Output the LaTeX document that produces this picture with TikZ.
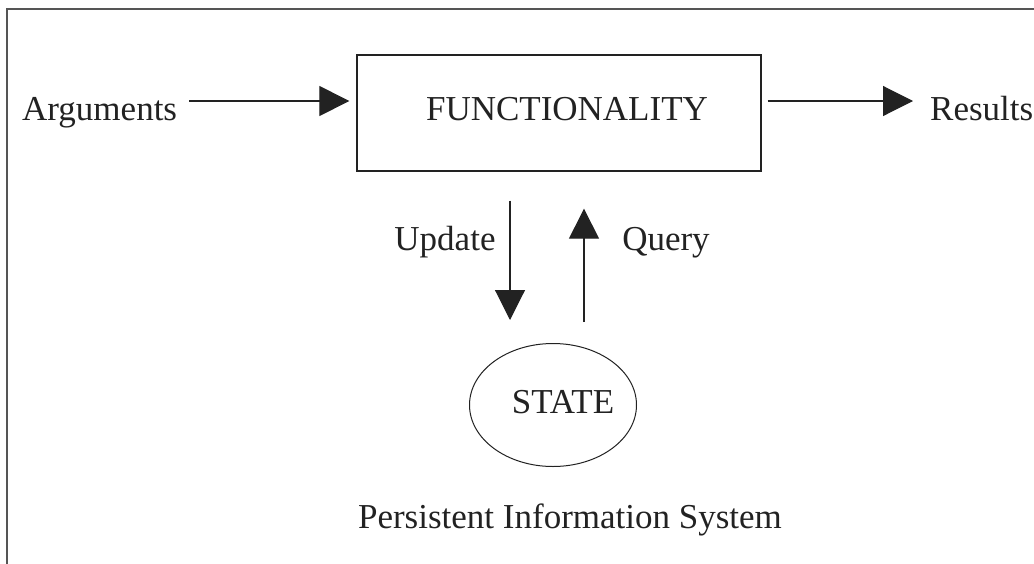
\documentclass[tikz,border=0pt]{standalone}
\usepackage{fontspec}
\setmainfont{Liberation Serif}
\usetikzlibrary{arrows.meta,shapes.geometric}
\definecolor{ink}{HTML}{222222}
\definecolor{framecol}{HTML}{555555}
\begin{document}
\begin{tikzpicture}[x=1pt,y=-1pt,
  lbl/.style={font=\fontsize{35}{42}\selectfont, text=ink, inner sep=0pt, anchor=base},
  flow/.style={draw=ink, line width=1.1pt, -{Triangle[length=30pt,width=30pt]}}]
\useasboundingbox (0,0) rectangle (1034,563);
\draw[framecol, line width=1.6pt] (7,570) -- (7,9) -- (1040,9);
% nodes
\node[lbl, anchor=base west] (args) at (22,120) {Arguments};
\node[draw=ink, line width=1.3pt, minimum width=404pt, minimum height=116pt, inner sep=0pt] (func) at (559,113) {};
\node[lbl] (functext) at (567,120) {FUNCTIONALITY};
\node[lbl, anchor=base west] (res) at (930,120) {Results};
\node[ellipse, draw=ink, line width=1pt, minimum width=167pt, minimum height=123pt, inner sep=0pt] (state) at (553,405) {};
\node[lbl] (statetext) at (563,413) {STATE};
\node[lbl] (upd) at (445,250) {Update};
\node[lbl] (qry) at (666,250) {Query};
\node[lbl] (pis) at (570,528) {Persistent Information System};
% connectors
\coordinate (a0) at (189,101);
\coordinate (ux) at (510,0);
\coordinate (qx) at (584,0);
\draw[flow, shorten >=7pt] (a0) -- (a0 -| func.west);
\draw[flow, shorten <=6pt, shorten >=17pt] (func.east |- a0) -- (res.west |- a0);
\draw[flow, shorten <=29pt, shorten >=23pt] (func.south -| ux) -- (state.north -| ux);
\draw[flow, shorten <=21pt, shorten >=37pt] (state.north -| qx) -- (func.south -| qx);
\end{tikzpicture}
\end{document}
